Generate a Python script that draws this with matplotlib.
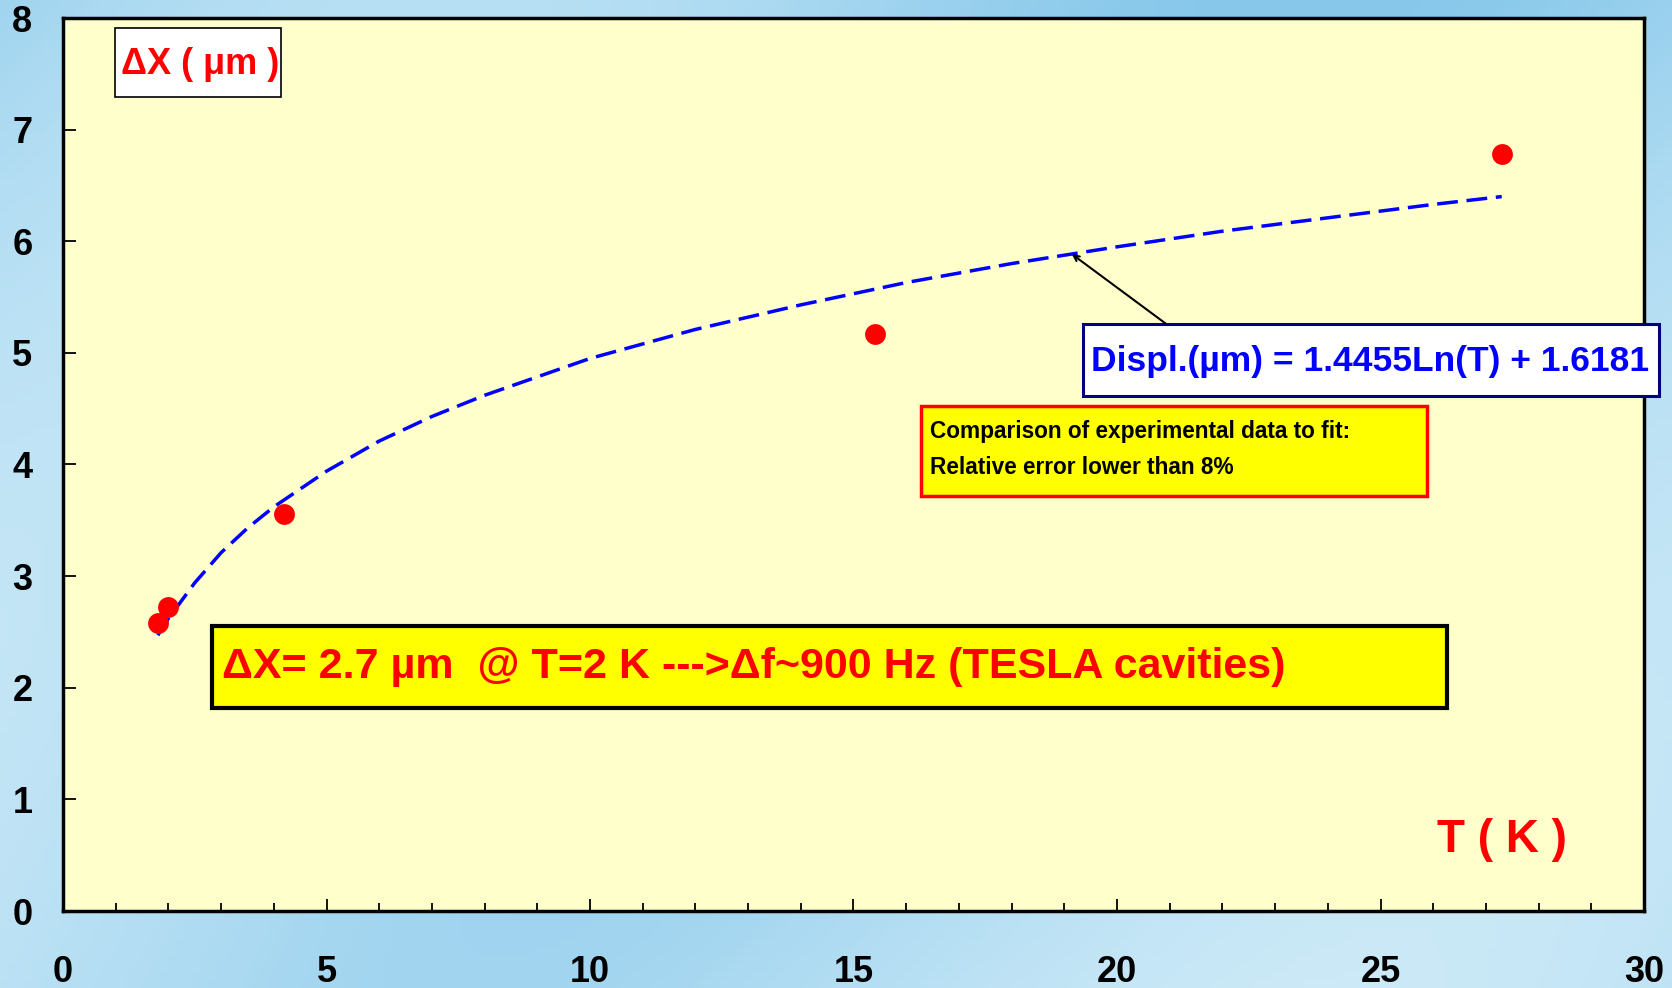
import numpy as np
import matplotlib
matplotlib.use('Agg')
import matplotlib.pyplot as plt
from matplotlib.patches import Rectangle

plt.rcParams['font.family'] = ['Liberation Sans', 'DejaVu Sans']
plt.rcParams['font.weight'] = 'bold'

# measured points
T_meas = [1.8, 2.0, 4.2, 15.4, 27.3]
dx_meas = [2.58, 2.72, 3.56, 5.17, 6.78]

# fitted log curve
T_fit = [1.8, 2.0, 2.5, 3.0, 3.5, 4.0, 5.0, 6.0, 7.0, 8.0, 10.0, 12.0, 14.0,
         16.0, 18.0, 20.0, 22.0, 24.0, 26.0, 27.3]
dx_fit = [2.47, 2.62, 2.94, 3.21, 3.43, 3.62, 3.94, 4.21, 4.43, 4.62, 4.95,
          5.21, 5.43, 5.63, 5.80, 5.95, 6.09, 6.21, 6.33, 6.40]

x_ticks = [0, 5, 10, 15, 20, 25, 30]
y_ticks = [0, 1, 2, 3, 4, 5, 6, 7, 8]

W, H = 1672, 988
fig = plt.figure(figsize=(W / 100, H / 100), dpi=100)

# light blue slide background
bg = fig.add_axes([0, 0, 1, 1], zorder=-5)
gx, gy = np.meshgrid(np.linspace(0, 1, 200), np.linspace(0, 1, 120))
grad = 0.5 + 0.25 * np.sin(6 * gx + 3 * gy) + 0.25 * gy
bg.imshow(grad, cmap=matplotlib.colors.LinearSegmentedColormap.from_list(
    'bgc', ['#86c7ea', '#aedbf2', '#cbe9f7']), aspect='auto', extent=[0, 1, 0, 1])
bg.axis('off')

ax = fig.add_axes([63 / W, 1 - 911 / H, (1644 - 63) / W, (911 - 18) / H])
ax.set_facecolor('#ffffcc')

ax.plot(T_fit, dx_fit, color='#0000ff', lw=2.5, linestyle=(0, (6, 2.5)), zorder=3)
ax.plot(T_meas, dx_meas, 'o', color='#ff0000', ms=15, mec='none', zorder=4)

ax.set_xlim(0, 30)
ax.set_ylim(0, 8)
ax.set_xticks(x_ticks)
ax.set_yticks(y_ticks)
ax.set_xticks(np.arange(0, 31, 1), minor=True)
ax.set_xticklabels([str(v) for v in x_ticks], fontsize=26, fontweight='bold')
ax.set_yticklabels([str(v) for v in y_ticks], fontsize=26, fontweight='bold')
ax.tick_params(axis='x', which='major', direction='in', length=9, width=1.3, pad=32)
ax.tick_params(axis='x', which='minor', direction='in', length=6, width=1.3)
ax.tick_params(axis='y', which='major', direction='in', length=9, width=1.3, pad=22)
for s in ax.spines.values():
    s.set_linewidth(2.5)
    s.set_color('black')

# y label box
ax.add_patch(Rectangle((0.0329, 0.9115), 0.105, 0.0773, transform=ax.transAxes,
                       facecolor='white', edgecolor='black', lw=1.2, zorder=5))
ax.text(0.0865, 0.9480, '\u0394X ( \u03bcm )', transform=ax.transAxes, color='#ff0000',
        fontsize=26, fontweight='bold', ha='center', va='center', zorder=6)

# fit equation box
ax.add_patch(Rectangle((0.645, 0.5767), 0.3645, 0.0806, transform=ax.transAxes,
                       facecolor='white', edgecolor='#000080', lw=2.2, zorder=5, clip_on=False))
ax.text(0.8267, 0.6150, 'Displ.(\u00b5m) = 1.4455Ln(T) + 1.6181', transform=ax.transAxes,
        color='#0000ff', fontsize=25.5, fontweight='bold', ha='center', va='center',
        zorder=6, clip_on=False)
ax.annotate('', xy=(19.1, 5.90), xytext=(20.96, 5.25),
            arrowprops=dict(arrowstyle='->', color='black', lw=1.5), zorder=6)

# relative error box
ax.add_patch(Rectangle((0.5427, 0.4647), 0.32, 0.1008, transform=ax.transAxes,
                       facecolor='#ffff00', edgecolor='#ff0000', lw=2.5, zorder=5))
ax.text(0.5484, 0.5365, 'Comparison of experimental data to fit:', transform=ax.transAxes,
        color='black', fontsize=16.3, fontweight='bold', ha='left', va='center', zorder=6)
ax.text(0.5484, 0.4970, 'Relative error lower than 8%', transform=ax.transAxes,
        color='black', fontsize=16.3, fontweight='bold', ha='left', va='center', zorder=6)

# TESLA box
ax.add_patch(Rectangle((0.0942, 0.2273), 0.7812, 0.0918, transform=ax.transAxes,
                       facecolor='#ffff00', edgecolor='black', lw=3, zorder=5))
ax.text(0.1006, 0.2735, '\u0394X= 2.7 \u00b5m  @ T=2 K --->\u0394f~900 Hz (TESLA cavities)',
        transform=ax.transAxes, color='#ff0000', fontsize=31, fontweight='bold',
        ha='left', va='center', zorder=6)

ax.text(0.910, 0.0795, 'T ( K )', transform=ax.transAxes, color='#ff0000',
        fontsize=33, fontweight='bold', ha='center', va='center', zorder=6)

plt.savefig('out.png', dpi=100, facecolor='#a9d9f1')
